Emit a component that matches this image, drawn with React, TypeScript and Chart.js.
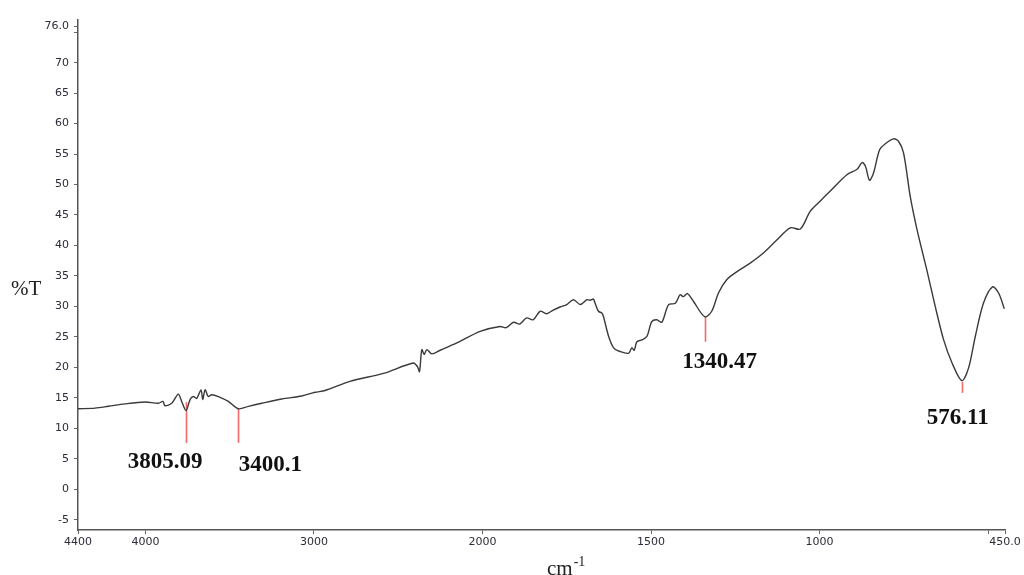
import React, { useEffect, useRef } from 'react';
import { Chart, registerables, LinearScale } from 'chart.js';

Chart.register(...registerables);

// ---- data ----
const wavenumbers = [
  4400, 4299, 4220, 4121, 4002, 3923, 3896, 3884, 3844, 3805, 3785, 3759, 3735, 3716, 3696, 3670, 3660, 3646, 3627, 3607,
  3567, 3508, 3449, 3389, 3310, 3191, 3072, 2993, 2934, 2786, 2588, 2410, 2386, 2374, 2360, 2346, 2330, 2301, 2251, 2152,
  2014, 1948, 1930, 1908, 1890, 1869, 1850, 1829, 1810, 1790, 1770, 1750, 1730, 1710, 1690, 1681, 1671, 1666, 1656, 1646,
  1641, 1626, 1611, 1592, 1567, 1557, 1550, 1542, 1527, 1512, 1498, 1483, 1468, 1448, 1428, 1414, 1404, 1392, 1374, 1341,
  1320, 1300, 1275, 1245, 1206, 1166, 1127, 1087, 1057, 1028, 998, 969, 919, 889, 874, 864, 852, 840, 822, 805,
  781, 766, 751, 731, 711, 682, 657, 632, 607, 578, 558, 538, 514, 487, 469, 452,
];
const transmittance = [
  13.2, 13.3, 13.6, 14.0, 14.3, 14.1, 14.4, 13.7, 14.1, 15.6, 14.4, 12.9, 14.7, 15.2, 14.9, 16.3, 14.7, 16.3, 15.2, 15.5,
  15.2, 14.4, 13.2, 13.6, 14.1, 14.8, 15.3, 15.9, 16.2, 17.7, 19.0, 20.7, 20.1, 19.3, 22.9, 22.1, 22.9, 22.2, 22.8, 24.0,
  25.9, 26.7, 26.5, 27.4, 27.1, 28.1, 27.8, 29.2, 28.8, 29.4, 29.9, 30.3, 31.1, 30.3, 31.1, 31.0, 31.2, 30.5, 29.2, 28.9,
  28.3, 25.1, 23.2, 22.6, 22.3, 23.2, 22.8, 24.2, 24.5, 25.1, 27.5, 27.8, 27.4, 30.3, 30.5, 31.9, 31.6, 32.1, 30.8, 28.3,
  29.2, 32.2, 34.4, 35.7, 37.1, 38.8, 40.9, 42.9, 42.7, 45.6, 47.3, 48.9, 51.6, 52.5, 53.6, 53.0, 50.7, 51.9, 55.7, 56.7,
  57.5, 57.1, 55.2, 48.0, 42.6, 36.0, 30.0, 24.5, 20.7, 17.8, 19.9, 25.1, 30.5, 33.2, 32.2, 29.6,
];

const xTicks = [4400, 4000, 3000, 2000, 1500, 1000, 500, 450];
const yTicks = [-5, 0, 5, 10, 15, 20, 25, 30, 35, 40, 45, 50, 55, 60, 65, 70, 75, 76];

const peakPositions = [3759, 3449, 1341, 578];
const peakLabels = ['3805.09', '3400.1', '1340.47', '576.11'];
const peakLineTop = [14.3, 13.2, 28.3, 17.6];
const peakLineBottom = [7.6, 7.6, 24.2, 15.8];

// ---- styles ----
const labelOffsets = [
  { dx: -21, dy: 19 },
  { dx: 32, dy: 22 },
  { dx: 15, dy: 20 },
  { dx: -4, dy: 25 },
];

// Piecewise wavenumber axis: scale doubles below 2000 cm-1
const X_MAX = 4400;
const X_MIN = 450;
const X_BREAK = 2000;
function toU(w: number) {
  return w >= X_BREAK ? X_MAX - w : X_MAX - X_BREAK + 2 * (X_BREAK - w);
}
const U_TOTAL = toU(X_MIN);

class FtirScale extends LinearScale {
  static id = 'ftir';
  getPixelForValue(value: number) {
    return (this as any).getPixelForDecimal(toU(value) / U_TOTAL);
  }
  getValueForPixel(pixel: number) {
    const u = (this as any).getDecimalForPixel(pixel) * U_TOTAL;
    const head = X_MAX - X_BREAK;
    return u <= head ? X_MAX - u : X_BREAK - (u - head) / 2;
  }
}
Chart.register(FtirScale as any);

const annotationPlugin = {
  id: 'ftirAnnotations',
  beforeDatasetsDraw(chart: any) {
    const ctx = chart.ctx;
    const xs = chart.scales.x;
    const ys = chart.scales.y;
    ctx.save();
    ctx.strokeStyle = '#f26a6a';
    ctx.lineWidth = 1.6;
    peakPositions.forEach((w, i) => {
      const px = Math.round(xs.getPixelForValue(w)) + 0.5;
      ctx.beginPath();
      ctx.moveTo(px, ys.getPixelForValue(peakLineTop[i]));
      ctx.lineTo(px, ys.getPixelForValue(peakLineBottom[i]));
      ctx.stroke();
    });
    ctx.restore();
  },
  afterDraw(chart: any) {
    const ctx = chart.ctx;
    const xs = chart.scales.x;
    const ys = chart.scales.y;
    ctx.save();
    ctx.fillStyle = '#111';
    ctx.font = 'bold 23px "Liberation Serif", "Times New Roman", serif';
    ctx.textAlign = 'center';
    ctx.textBaseline = 'middle';
    peakPositions.forEach((w, i) => {
      const px = xs.getPixelForValue(w) + labelOffsets[i].dx;
      const py = ys.getPixelForValue(peakLineBottom[i]) + labelOffsets[i].dy;
      ctx.fillText(peakLabels[i], px, py);
    });
    // axis titles
    ctx.fillStyle = '#222';
    ctx.font = '21px "Liberation Serif", "Times New Roman", serif';
    ctx.textAlign = 'left';
    ctx.textBaseline = 'alphabetic';
    ctx.fillText('%T', 11, 295);
    ctx.fillText('cm', 547, 575);
    const cmW = ctx.measureText('cm').width;
    ctx.font = '14px "Liberation Serif", "Times New Roman", serif';
    ctx.fillText('-1', 547 + cmW + 1, 566);
    ctx.restore();
  },
};

export default function App() {
  const canvasRef = useRef<HTMLCanvasElement | null>(null);

  useEffect(() => {
    if (!canvasRef.current) return;
    const points = wavenumbers.map((w, i) => ({ x: w, y: transmittance[i] }));
    const tickFont = { family: '"DejaVu Sans", Verdana, sans-serif', size: 11 };
    const chart = new Chart(canvasRef.current, {
      type: 'line',
      data: {
        datasets: [
          {
            data: points,
            borderColor: '#3a3a3a',
            borderWidth: 1.4,
            pointRadius: 0,
            tension: 0.3,
            fill: false,
          },
        ],
      },
      options: {
        animation: false,
        responsive: false,
        layout: { padding: { top: 20, right: 19, left: 0, bottom: 0 } },
        plugins: { legend: { display: false }, tooltip: { enabled: false }, title: { display: false } },
        scales: {
          x: {
            type: 'ftir' as any,
            min: X_MIN,
            max: X_MAX,
            afterBuildTicks: (scale: any) => {
              scale.ticks = xTicks.map((v) => ({ value: v }));
            },
            afterFit: (scale: any) => {
              scale.height = 45;
            },
            ticks: {
              autoSkip: false,
              maxRotation: 0,
              padding: 2,
              color: '#2c2c3c',
              font: tickFont,
              callback: (v: any) => (v === 500 ? '' : v === 450 ? '450.0' : String(v)),
            },
            grid: { drawOnChartArea: false, drawTicks: true, tickLength: 4, color: '#666' },
            border: { display: true, color: '#555', width: 1.5 },
          },
          y: {
            type: 'linear',
            min: -6.7,
            max: 77,
            afterBuildTicks: (scale: any) => {
              scale.ticks = yTicks.map((v) => ({ value: v }));
            },
            afterFit: (scale: any) => {
              scale.width = 78;
            },
            ticks: {
              autoSkip: false,
              padding: 5,
              color: '#2c2c3c',
              font: tickFont,
              callback: (v: any) => (v === 75 ? '' : v === 76 ? '76.0' : String(v)),
            },
            grid: { drawOnChartArea: false, drawTicks: true, tickLength: 4, color: '#666' },
            border: { display: true, color: '#555', width: 1.5 },
          },
        },
      },
      plugins: [annotationPlugin],
    });
    return () => chart.destroy();
  }, []);

  return (
    <div style={{ position: 'fixed', left: 0, top: 0, width: 1024, height: 575, background: '#fff' }}>
      <canvas ref={canvasRef} width={1024} height={575} style={{ display: 'block' }} />
    </div>
  );
}
